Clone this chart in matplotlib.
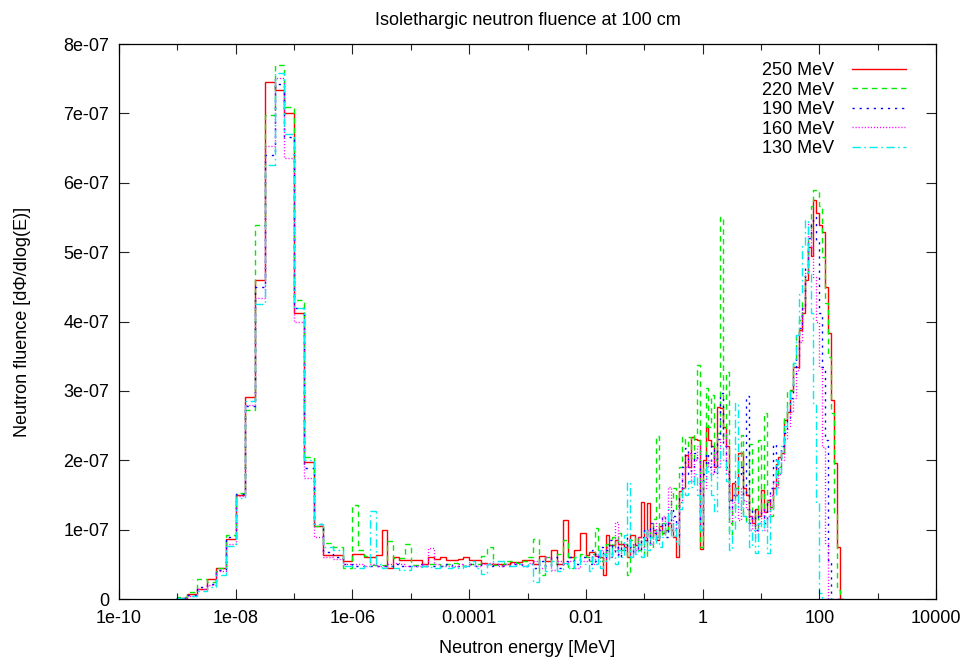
import numpy as np
import matplotlib
matplotlib.use("Agg")
import matplotlib.pyplot as plt
from matplotlib.ticker import FixedLocator, NullFormatter

plt.rcParams['font.family'] = ['Liberation Sans', 'DejaVu Sans']

# energy bin grid (log10 MeV): thermal groups, epithermal, fast
GRID = [(-9.0, -6.0, 6), (-6.0, -2.0, 10), (-2.0, 2.4, 20)]

# fluence per bin, units of 1e-7 (thermal | epithermal | fast)
red = [0.02, 0.07, 0.14, 0.29, 0.45, 0.86, 1.50, 2.91, 4.60, 7.45, 7.34, 7.01, 4.13, 1.98, 1.05, 0.63, 0.63, 0.55] + \
    [0.65, 0.65, 0.6, 0.6, 0.64, 0.99, 0.44, 0.61, 0.56, 0.56, 0.56, 0.56, 0.5, 0.6, 0.58, 0.6, 0.56, 0.56, 0.58, 0.61,
     0.56, 0.56, 0.52, 0.51, 0.51, 0.5, 0.5, 0.54, 0.54, 0.56, 0.56, 0.5, 0.62, 0.55, 0.7, 0.5, 1.14, 0.6, 0.7, 0.95] + \
    [0.63, 0.68, 0.68, 0.62, 0.62, 0.6, 0.35, 0.92, 0.78, 0.78, 0.85, 0.8, 0.8, 0.75, 0.61, 0.92, 0.92, 0.78, 0.9, 1.40,
     0.85, 1.38, 0.9, 1.0, 0.85, 1.05, 0.95, 1.0, 1.1, 1.0, 0.9, 0.6, 1.55, 1.6, 2.07, 1.9, 2.33, 2.3, 2.29, 0.72,
     2.0, 2.48, 2.29, 2.2, 1.9, 2.77, 2.75, 2.48, 2.2, 1.43, 1.67, 1.5, 2.1, 2.1, 1.6, 1.5, 1.2, 1.1, 1.3, 1.2,
     1.57, 1.25, 1.43, 1.33, 1.6, 1.95, 2.05, 2.1, 2.58, 2.7, 3.01, 3.35, 3.35, 3.88, 4.12, 4.6, 5.08, 4.95, 5.75, 5.56,
     5.39, 5.29, 4.5, 3.83, 2.87, 1.96, 0.75, 0.0]

green = [0.03, 0.10, 0.29, 0.25, 0.45, 0.92, 1.53, 2.72, 5.39, 6.97, 7.70, 7.09, 4.31, 2.05, 1.05, 0.81, 0.75, 0.45] + \
    [1.35, 0.71, 0.62, 0.49, 0.49, 0.49, 0.83, 0.59, 0.59, 0.8, 0.49, 0.49, 0.48, 0.5, 0.5, 0.48, 0.5, 0.52, 0.5, 0.48,
     0.5, 0.5, 0.62, 0.75, 0.49, 0.49, 0.55, 0.55, 0.52, 0.55, 0.6, 0.86, 0.35, 0.6, 0.5, 0.65, 0.85, 0.45, 0.6, 0.65] + \
    [0.6, 0.55, 0.65, 1.02, 0.7, 0.55, 0.65, 0.8, 0.6, 0.9, 0.7, 0.95, 0.7, 0.8, 0.35, 0.85, 0.75, 0.9, 0.7, 0.85,
     0.6, 1.0, 0.75, 1.15, 2.35, 0.9, 1.1, 0.95, 1.2, 1.45, 1.6, 1.3, 1.9, 2.34, 2.2, 2.34, 2.0, 2.38, 3.37, 0.75,
     1.9, 3.04, 2.48, 2.94, 2.0, 2.39, 5.51, 2.3, 3.27, 0.94, 1.3, 1.6, 1.9, 2.37, 1.2, 1.1, 2.24, 1.25, 1.0, 2.29,
     1.3, 2.68, 1.4, 1.2, 1.5, 1.6, 1.9, 2.1, 2.63, 3.01, 3.0, 3.4, 3.83, 4.02, 4.3, 4.7, 5.2, 5.67, 5.89, 5.89,
     5.67, 4.93, 4.27, 3.49, 2.68, 1.24, 0.13, 0.0]

blue = [0.02, 0.06, 0.18, 0.22, 0.42, 0.90, 1.52, 2.78, 4.50, 6.40, 7.42, 6.66, 4.19, 1.89, 1.08, 0.68, 0.60, 0.50] + \
    [0.47, 0.48, 0.47, 0.47, 0.48, 0.47, 0.48, 0.5, 0.48, 0.47, 0.48, 0.5, 0.47, 0.48, 0.47, 0.48, 0.5, 0.48, 0.47, 0.48,
     0.5, 0.48, 0.5, 0.48, 0.5, 0.47, 0.48, 0.5, 0.5, 0.48, 0.5, 0.45, 0.55, 0.48, 0.6, 0.45, 0.55, 0.6, 0.5, 0.6] + \
    [0.6, 0.5, 0.7, 0.55, 0.65, 0.75, 0.6, 0.7, 0.85, 0.65, 0.75, 0.6, 0.8, 0.7, 0.9, 0.75, 0.65, 0.8, 0.7, 0.9,
     1.0, 0.8, 1.1, 0.95, 0.85, 1.0, 1.2, 0.9, 1.1, 1.3, 1.2, 0.9, 1.5, 1.9, 2.17, 1.8, 1.9, 2.1, 2.0, 1.0,
     1.8, 2.1, 1.9, 2.2, 1.8, 2.3, 2.97, 2.2, 1.9, 1.3, 1.5, 1.7, 1.8, 1.91, 1.5, 2.92, 1.1, 1.3, 1.0, 1.2,
     1.3, 1.1, 1.4, 1.6, 2.24, 1.8, 2.0, 2.2, 2.4, 2.6, 2.9, 3.2, 3.5, 3.9, 4.2, 4.8, 5.2, 5.45, 5.5, 5.17,
     4.12, 3.34, 2.29, 0.56, 0.0, 0.0, 0.0, 0.0]

magenta = [0.02, 0.05, 0.15, 0.20, 0.40, 0.80, 1.48, 2.80, 4.34, 6.53, 7.51, 6.36, 4.00, 1.74, 0.90, 0.60, 0.58, 0.50] + \
    [0.5, 0.5, 0.48, 0.5, 0.48, 0.47, 0.5, 0.52, 0.5, 0.48, 0.47, 0.48, 0.5, 0.73, 0.5, 0.48, 0.47, 0.48, 0.5, 0.47,
     0.5, 0.48, 0.5, 0.52, 0.5, 0.48, 0.5, 0.52, 0.5, 0.48, 0.52, 0.55, 0.45, 0.6, 0.42, 0.55, 0.5, 0.55, 0.45, 0.55] + \
    [0.55, 0.6, 0.5, 0.65, 0.6, 0.7, 0.55, 0.75, 0.6, 0.7, 1.11, 0.65, 0.8, 0.7, 0.85, 0.6, 0.8, 0.7, 0.9, 0.75,
     0.9, 1.0, 0.8, 1.1, 0.9, 1.0, 1.2, 1.1, 1.62, 1.2, 1.0, 1.1, 1.4, 1.8, 1.9, 2.1, 1.7, 2.0, 2.2, 1.0,
     1.6, 1.91, 2.0, 1.8, 2.1, 1.9, 2.3, 2.39, 1.8, 1.1, 1.4, 1.5, 1.14, 1.6, 1.43, 1.3, 1.0, 1.2, 0.9, 1.1,
     1.3, 1.0, 1.2, 1.5, 1.7, 1.6, 1.8, 2.0, 2.3, 2.5, 2.7, 2.9, 3.3, 3.7, 4.2, 4.7, 5.41, 5.08, 4.64, 4.0,
     3.34, 2.19, 0.81, 0.0, 0.0, 0.0, 0.0, 0.0]

cyan = [0.01, 0.04, 0.12, 0.18, 0.35, 0.76, 1.45, 2.85, 4.25, 6.26, 7.58, 6.70, 4.20, 2.00, 1.08, 0.75, 0.70, 0.48] + \
    [0.45, 0.45, 0.47, 1.27, 0.5, 0.45, 0.47, 0.45, 0.42, 0.42, 0.47, 0.46, 0.48, 0.46, 0.45, 0.47, 0.45, 0.46, 0.45, 0.47,
     0.55, 0.45, 0.36, 0.5, 0.55, 0.55, 0.5, 0.48, 0.5, 0.47, 0.5, 0.25, 0.55, 0.4, 0.55, 0.4, 0.52, 0.45, 0.6, 0.5] + \
    [0.5, 0.4, 0.6, 0.5, 0.7, 0.45, 0.65, 0.55, 0.75, 0.6, 0.5, 0.7, 0.6, 0.92, 1.69, 0.6, 0.75, 0.65, 0.8, 0.6,
     1.0, 0.7, 0.9, 0.8, 1.0, 0.75, 0.9, 1.1, 1.3, 0.9, 1.1, 0.8, 1.3, 1.6, 1.5, 1.7, 1.62, 1.8, 1.5, 1.0,
     1.7, 1.9, 1.8, 1.5, 1.26, 1.9, 2.2, 2.0, 1.7, 0.71, 1.0, 2.82, 1.3, 1.5, 1.2, 1.1, 0.75, 1.0, 0.66, 1.1,
     1.0, 1.2, 0.66, 1.3, 1.5, 2.0, 1.81, 2.2, 2.5, 2.8, 3.0, 3.4, 3.8, 4.4, 5.1, 5.46, 4.69, 4.12, 2.82, 1.38,
     0.09, 0.0, 0.0, 0.0, 0.0, 0.0, 0.0, 0.0]

labels = ['250 MeV', '220 MeV', '190 MeV', '160 MeV', '130 MeV']
colors = ['#ff0000', '#00ee00', '#0000ff', '#ff00ff', '#00eeee']
styles = ['-', (0, (4, 3)), (0, (1.6, 3.5)), (0, (0.8, 1.4)), (0, (6, 2.5, 1.2, 2.5))]

xtick_vals = [1e-10, 1e-8, 1e-6, 1e-4, 1e-2, 1, 100, 10000]
xtick_labels = ['1e-10', '1e-08', '1e-06', '0.0001', '0.01', '1', '100', '10000']
ytick_vals = [0, 1e-7, 2e-7, 3e-7, 4e-7, 5e-7, 6e-7, 7e-7, 8e-7]
ytick_labels = ['0', '1e-07', '2e-07', '3e-07', '4e-07', '5e-07', '6e-07', '7e-07', '8e-07']

# bin edges from the grid segments
edges = [np.logspace(a, b, int(round((b - a) * n)) + 1) for a, b, n in GRID]
edges = np.concatenate([edges[0]] + [e[1:] for e in edges[1:]])

fig = plt.figure(figsize=(9.66, 6.6), dpi=100)
ax = fig.add_axes([0.1232, 0.0924, 0.8458, 0.8409])

for vals, lab, col, ls in zip([red, green, blue, magenta, cyan], labels, colors, styles):
    ax.stairs(np.array(vals) * 1e-7, edges, color=col, linestyle=ls, linewidth=1.0, label=lab)

ax.set_xscale('log')
ax.set_xlim(1e-10, 1e4)
ax.set_ylim(0, 8e-7)

ax.xaxis.set_major_locator(FixedLocator(xtick_vals))
ax.set_xticklabels(xtick_labels)
ax.xaxis.set_minor_locator(FixedLocator([10.0 ** p for p in range(-9, 4, 2)]))
ax.xaxis.set_minor_formatter(NullFormatter())
ax.yaxis.set_major_locator(FixedLocator(ytick_vals))
ax.set_yticklabels(ytick_labels)

ax.tick_params(which='both', direction='in', top=True, right=True, labelsize=13, width=0.8, color='#222222')
ax.tick_params(which='major', length=7)
ax.tick_params(axis='x', which='major', pad=8)
ax.tick_params(axis='y', which='major', pad=7)
ax.tick_params(which='minor', length=4)
for s in ax.spines.values():
    s.set_linewidth(0.9)

ax.set_title('Isolethargic neutron fluence at 100 cm', fontsize=13, pad=14)
ax.set_xlabel('Neutron energy [MeV]', fontsize=13, labelpad=9)
ax.set_ylabel('Neutron fluence [d\u03a6/dlog(E)]', fontsize=13, labelpad=23)

ax.legend(loc='upper right', frameon=False, markerfirst=False, fontsize=13,
          handlelength=3.0, handletextpad=0.95, labelspacing=0.14,
          borderaxespad=0.6, bbox_to_anchor=(0.985, 1.0))

fig.savefig('out.png', dpi=100)
